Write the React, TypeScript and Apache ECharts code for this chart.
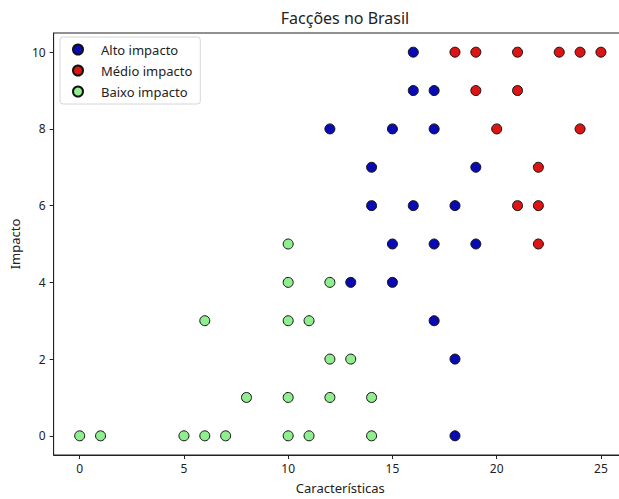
import React, { useEffect, useRef } from "react";
import * as echarts from "echarts";

const seriesNames = ["Alto impacto", "Médio impacto", "Baixo impacto"];
const seriesColors = ["#0a0ab4", "#dd1414", "#90ee90"];

const altoImpacto: [number, number][] = [
  [16, 10], [16, 9], [17, 9], [12, 8], [15, 8], [17, 8], [14, 7], [19, 7],
  [14, 6], [16, 6], [18, 6], [15, 5], [17, 5], [19, 5], [13, 4], [15, 4],
  [17, 3], [18, 2], [18, 0],
];
const medioImpacto: [number, number][] = [
  [18, 10], [19, 10], [21, 10], [23, 10], [24, 10], [25, 10], [19, 9], [21, 9],
  [20, 8], [24, 8], [22, 7], [21, 6], [22, 6], [22, 5],
];
const baixoImpacto: [number, number][] = [
  [10, 5], [10, 4], [12, 4], [6, 3], [10, 3], [11, 3], [12, 2], [13, 2],
  [8, 1], [10, 1], [12, 1], [14, 1], [0, 0], [1, 0], [5, 0], [6, 0], [7, 0],
  [10, 0], [11, 0], [14, 0],
];

const xTicks = [0, 5, 10, 15, 20, 25];
const yTicks = [0, 2, 4, 6, 8, 10];

const FONT = "Noto Sans";

export default function App() {
  const ref = useRef<HTMLDivElement>(null);
  useEffect(() => {
    if (!ref.current) return;
    const chart = echarts.init(ref.current, undefined, { renderer: "svg" });
    const datasets = [altoImpacto, medioImpacto, baixoImpacto];
    chart.setOption({
      animation: false,
      backgroundColor: "#ffffff",
      textStyle: { fontFamily: FONT },
      title: {
        text: "Facções no Brasil",
        left: 340,
        top: 5,
        textAlign: "center",
        textStyle: { fontFamily: FONT, fontSize: 16, fontWeight: "normal", color: "#222" },
      },
      legend: {
        orient: "vertical",
        left: 60,
        top: 37,
        padding: [6, 8, 6, 12],
        itemWidth: 10,
        itemHeight: 10,
        itemGap: 8,
        backgroundColor: "rgba(255,255,255,0.85)",
        borderColor: "#d6d6d6",
        borderWidth: 1,
        borderRadius: 3,
        textStyle: { fontFamily: FONT, fontSize: 13, color: "#222", padding: [0, 0, 0, 13] },
        data: seriesNames.map((n) => ({ name: n, icon: "circle" })),
      },
      grid: {
        left: 53,
        top: 33,
        width: 574,
        height: 426,
        show: true,
        borderColor: "#222",
        borderWidth: 1,
        backgroundColor: "transparent",
      },
      xAxis: {
        type: "value",
        min: -1.25,
        max: 26.25,
        name: "Características",
        nameLocation: "middle",
        nameGap: 26,
        nameTextStyle: { fontFamily: FONT, fontSize: 13, color: "#222" },
        axisLine: { show: true, onZero: false, lineStyle: { color: "#222" } },
        axisTick: { show: true, length: 4, customValues: xTicks, lineStyle: { color: "#222" } },
        axisLabel: { customValues: xTicks, margin: 7, fontSize: 12, fontFamily: FONT, color: "#222" },
        splitLine: { show: false },
      },
      yAxis: {
        type: "value",
        min: -0.5,
        max: 10.5,
        name: "Impacto",
        nameLocation: "middle",
        nameGap: 31,
        nameTextStyle: { fontFamily: FONT, fontSize: 13, color: "#222" },
        axisLine: { show: true, onZero: false, lineStyle: { color: "#222" } },
        axisTick: { show: true, length: 4, customValues: yTicks, lineStyle: { color: "#222" } },
        axisLabel: { customValues: yTicks, margin: 8, fontSize: 12, fontFamily: FONT, color: "#222" },
        splitLine: { show: false },
      },
      series: seriesNames.map((name, i) => ({
        name,
        type: "scatter",
        data: datasets[i],
        symbol: "circle",
        symbolSize: 10,
        itemStyle: { color: seriesColors[i], borderColor: "#111", borderWidth: 1, opacity: 1 },
        emphasis: { disabled: true },
      })),
    });
    return () => chart.dispose();
  }, []);
  return (
    <div style={{ position: "fixed", left: 0, top: 0, width: 619, height: 499, overflow: "hidden", background: "#fff" }}>
      <div ref={ref} style={{ width: 628, height: 499 }} />
    </div>
  );
}
